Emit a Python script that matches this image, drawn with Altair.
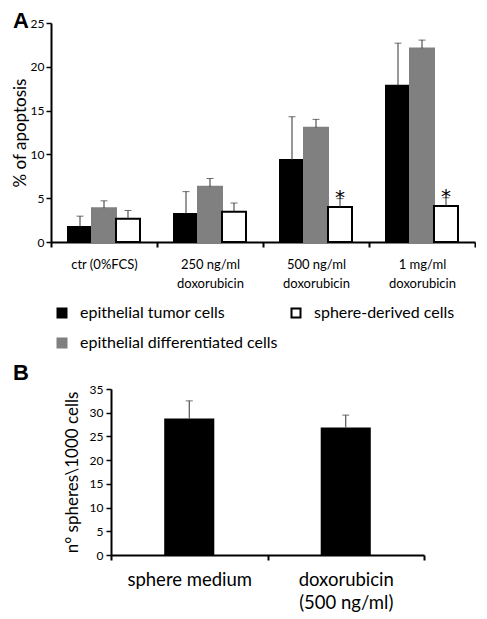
import altair as alt
import pandas as pd

# ---------------- data ----------------
conditions = ["ctr (0%FCS)", "250 ng/ml\ndoxorubicin", "500 ng/ml\ndoxorubicin", "1 mg/ml\ndoxorubicin"]
series_names = ["epithelial tumor cells", "epithelial differentiated cells", "sphere-derived cells"]
series_fill = ["#000000", "#808080", "#ffffff"]
series_stroke = ["#000000", "#808080", "#000000"]

tumor_mean = [1.7, 3.2, 9.35, 17.85]
tumor_err = [1.25, 2.55, 4.95, 4.85]
diff_mean = [3.85, 6.3, 13.05, 22.1]
diff_err = [0.85, 0.95, 0.95, 0.95]
sphere_mean = [2.65, 3.45, 4.0, 4.1]
sphere_err = [0.95, 1.0, 0.95, 0.95]
sphere_sig = ["", "", "*", "*"]
apoptosis_ticks = [0, 5, 10, 15, 20, 25]

b_conditions = ["sphere medium", "doxorubicin\n(500 ng/ml)"]
b_mean = [28.8, 26.9]
b_err = [3.7, 2.6]
b_ticks = [0, 5, 10, 15, 20, 25, 30, 35]

# ---------------- tables ----------------
rows = []
for s, means, errs in [(series_names[0], tumor_mean, tumor_err),
                       (series_names[1], diff_mean, diff_err),
                       (series_names[2], sphere_mean, sphere_err)]:
    for i, c in enumerate(conditions):
        rows.append({"condition": c, "series": s, "mean": means[i],
                     "upper": means[i] + errs[i],
                     "sig": sphere_sig[i] if s == series_names[2] else ""})
dfA = pd.DataFrame(rows)
dfB = pd.DataFrame({"condition": b_conditions, "mean": b_mean,
                    "upper": [m + e for m, e in zip(b_mean, b_err)]})

# ---------------- panel A ----------------
legend = alt.Legend(orient="none", legendX=3, legendY=282, columns=2, gridAlign="none",
                    columnPadding=9, rowPadding=12, symbolType="square", symbolSize=81,
                    symbolStrokeWidth=2, labelFontSize=16, labelOffset=10, title=None,
                    padding=0, labelColor="black", labelLimit=0)

xA = alt.X("condition:N", sort=conditions,
           scale=alt.Scale(paddingInner=0, paddingOuter=0),
           axis=alt.Axis(title=None, labelAngle=0, labelExpr="split(datum.label, '\\n')",
                         tickBand="extent", domainColor="black", domainWidth=2,
                         tickColor="black", tickWidth=2, tickSize=5, labelFontSize=13,
                         labelLineHeight=19, labelPadding=11, labelColor="black", labelLimit=0))
xoA = alt.XOffset("series:N", sort=series_names,
                  scale=alt.Scale(paddingInner=0, paddingOuter=0.709))
axisA = alt.Axis(values=apoptosis_ticks, tickCount=6, title="% of apoptosis", grid=False,
                 domainColor="black", domainWidth=2, tickColor="black", tickWidth=1.5,
                 tickSize=5, labelFontSize=12, labelPadding=2, labelColor="black",
                 labelOverlap=False,
                 titleFontSize=17, titleFontWeight="normal", titleColor="black",
                 titlePadding=1)
scaleA = alt.Scale(domain=[0, 25], nice=False)

baseA = alt.Chart(dfA)
barsA = baseA.mark_bar(strokeWidth=2).encode(
    x=xA, xOffset=xoA, y=alt.Y("mean:Q", scale=scaleA, axis=axisA),
    fill=alt.Fill("series:N", scale=alt.Scale(domain=series_names, range=series_fill), legend=legend),
    stroke=alt.Stroke("series:N", scale=alt.Scale(domain=series_names, range=series_stroke), legend=legend),
)
errA = baseA.mark_rule(color="#333333", strokeWidth=1).encode(
    x=alt.X("condition:N", sort=conditions), xOffset=xoA,
    y=alt.Y("mean:Q", scale=scaleA, axis=axisA), y2="upper:Q")
capA = baseA.mark_tick(color="#333333", thickness=1, size=7, orient="horizontal").encode(
    x=alt.X("condition:N", sort=conditions), xOffset=xoA,
    y=alt.Y("upper:Q", scale=scaleA, axis=axisA))
sigA = baseA.transform_filter("datum.sig != ''").mark_text(
    font="DejaVu Sans", fontSize=20, baseline="middle", dy=-1, color="black").encode(
    x=alt.X("condition:N", sort=conditions), xOffset=xoA,
    y=alt.Y("upper:Q", scale=scaleA, axis=axisA), text="sig:N")
letterA = alt.Chart(pd.DataFrame({"t": ["A"]})).mark_text(
    font="Liberation Sans", fontWeight="bold", fontSize=22, align="left", baseline="top",
    color="black").encode(x=alt.value(-38), y=alt.value(-12), text="t:N")

panelA = alt.layer(barsA, errA, capA, sigA, letterA).properties(width=424, height=219)

# ---------------- panel B ----------------
xB = alt.X("condition:N", sort=b_conditions,
           scale=alt.Scale(range=[60, 373], paddingInner=0, paddingOuter=0),
           axis=alt.Axis(title=None, labelAngle=0, labelExpr="split(datum.label, '\\n')",
                         tickBand="extent", domainColor="black", domainWidth=2,
                         tickColor="black", tickWidth=2, tickSize=5, labelFontSize=18.5,
                         labelLineHeight=23, labelBaseline="middle", labelPadding=19,
                         labelColor="black", labelLimit=0))
axisB = alt.Axis(values=b_ticks, tickCount=8, title="n° spheres\\1000 cells", grid=False,
                 offset=-60, domainColor="black", domainWidth=2, tickColor="black",
                 tickWidth=1.5, tickSize=5, labelFontSize=12, labelPadding=3,
                 labelColor="black", labelOverlap=False,
                 titleFontSize=17, titleFontWeight="normal", titleColor="black",
                 titlePadding=8)
scaleB = alt.Scale(domain=[0, 35], nice=False)
baseB = alt.Chart(dfB)
barsB = baseB.mark_bar(color="black", width=alt.RelativeBandSize(0.32)).encode(
    x=xB, y=alt.Y("mean:Q", scale=scaleB, axis=axisB))
errB = baseB.mark_rule(color="#333333", strokeWidth=1).encode(
    x=alt.X("condition:N", sort=b_conditions),
    y=alt.Y("mean:Q", scale=scaleB, axis=axisB), y2="upper:Q")
capB = baseB.mark_tick(color="#333333", thickness=1, size=7, orient="horizontal").encode(
    x=alt.X("condition:N", sort=b_conditions),
    y=alt.Y("upper:Q", scale=scaleB, axis=axisB))
letterB = alt.Chart(pd.DataFrame({"t": ["B"]})).mark_text(
    font="Liberation Sans", fontWeight="bold", fontSize=22, align="left", baseline="top",
    color="black").encode(x=alt.value(-38), y=alt.value(-26), text="t:N")

panelB = alt.layer(barsB, errB, capB, letterB).properties(width=373, height=166)

chart = alt.vconcat(panelA, panelB, spacing=10).resolve_legend(
    fill="independent", stroke="independent").properties(
    padding={"left": 3, "top": 2, "right": 0, "bottom": 0}).configure(
    font="Lato").configure_view(stroke=None)

chart.save("out.html", embed_options={"renderer": "svg", "actions": False})
